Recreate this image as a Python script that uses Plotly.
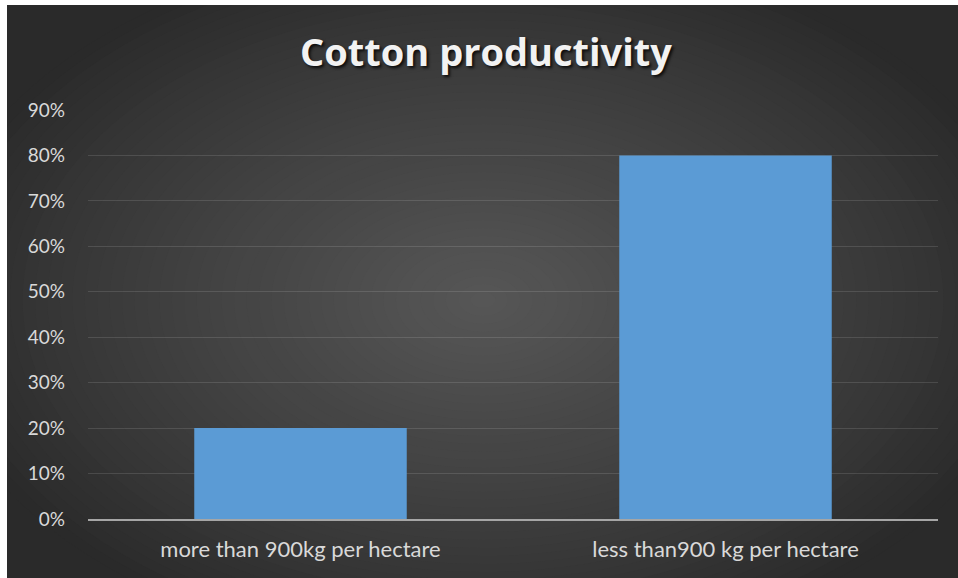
import plotly.graph_objects as go

categories = ["more than 900kg per hectare", "less than900 kg per hectare"]
values = [0.20, 0.80]
y_ticks = [0, 0.1, 0.2, 0.3, 0.4, 0.5, 0.6, 0.7, 0.8, 0.9]

W, H = 958, 578
L, R, T, B = 88, 20, 110, 59
PW, PH = W - L - R, H - T - B

def px_x(px):
    return (px - L) / PW

def px_y(py):
    return (H - B - py) / PH

shapes = []
# radial gradient approximation
cx, cy = 483, 300
N = 45
c_out = (0x2a, 0x2a, 0x2a)
c_in = (0x57, 0x57, 0x57)
for i in range(N):
    t = 1 - i / N
    rx = t * 560
    ry = t * 360
    f = (1 - t) ** 0.9
    col = tuple(int(round(c_out[k] + (c_in[k] - c_out[k]) * f)) for k in range(3))
    shapes.append(dict(type="circle", xref="paper", yref="paper", layer="below",
                       x0=px_x(cx - rx), x1=px_x(cx + rx),
                       y0=px_y(cy + ry), y1=px_y(cy - ry),
                       fillcolor="rgb(%d,%d,%d)" % col, line=dict(width=0)))
# white border strips (left and top)
shapes.append(dict(type="rect", xref="paper", yref="paper", layer="below",
                   x0=px_x(-5), x1=px_x(7), y0=px_y(H + 5), y1=px_y(-5),
                   fillcolor="white", line=dict(width=0)))
shapes.append(dict(type="rect", xref="paper", yref="paper", layer="below",
                   x0=px_x(-5), x1=px_x(W + 5), y0=px_y(5), y1=px_y(-5),
                   fillcolor="white", line=dict(width=0)))

fig = go.Figure()
fig.add_trace(go.Bar(
    x=categories, y=values,
    marker=dict(color="#5b9bd5", line=dict(width=0)),
    hoverinfo="skip",
))

fig.update_layout(
    width=W, height=H,
    margin=dict(l=L, r=R, t=T, b=B),
    paper_bgcolor="#2a2a2a",
    plot_bgcolor="rgba(0,0,0,0)",
    shapes=shapes,
    bargap=0.5,
    showlegend=False,
    title=dict(
        text="<b>Cotton productivity</b>",
        x=486 / W, xref="container", xanchor="center",
        y=1 - 53 / H, yref="container", yanchor="middle",
        font=dict(family="Open Sans", size=38, color="#f2f2f2",
                  shadow="2px 2px 3px rgba(0,0,0,0.8)"),
    ),
    font=dict(family="Lato", color="#d9d9d9"),
)

fig.update_yaxes(
    range=[0, 0.9], tickvals=y_ticks, tickformat=".0%",
    showgrid=True, gridcolor="rgba(255,255,255,0.12)", gridwidth=1,
    zeroline=False, showline=False,
    tickfont=dict(family="Lato", size=19, color="#d9d9d9"),
    ticks="", ticklabelstandoff=22,
)
fig.update_xaxes(
    showline=True, linecolor="#a6a6a6", linewidth=2,
    showgrid=False, ticks="",
    tickfont=dict(family="Lato", size=22, color="#d9d9d9"),
    ticklabelstandoff=10,
)

fig.write_html(
    "out.html",
    config={"displayModeBar": False},
    post_script="document.body.style.margin='0';document.body.style.background='white';",
)
